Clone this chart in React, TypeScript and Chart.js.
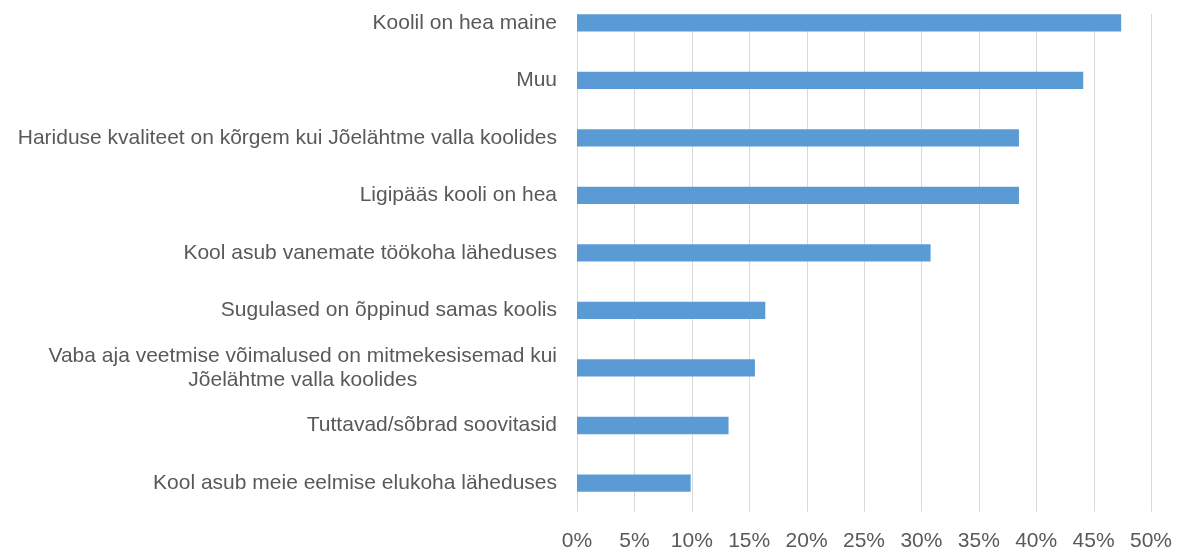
import React, { useEffect, useRef } from "react";
import { Chart, registerables } from "chart.js";

Chart.register(...registerables);

const categories: (string | string[])[] = [
  "Koolil on hea maine",
  "Muu",
  "Hariduse kvaliteet on kõrgem kui Jõelähtme valla koolides",
  "Ligipääs kooli on hea",
  "Kool asub vanemate töökoha läheduses",
  "Sugulased on õppinud samas koolis",
  ["Vaba aja veetmise võimalused on mitmekesisemad kui", "Jõelähtme valla koolides"],
  "Tuttavad/sõbrad soovitasid",
  "Kool asub meie eelmise elukoha läheduses",
];

const values = [47.4, 44.1, 38.5, 38.5, 30.8, 16.4, 15.5, 13.2, 9.9];

const xMin = 0;
const xMax = 50;
const xStep = 5;

const FONT_FAMILY = '"Liberation Sans", Arial, sans-serif';
const TEXT_COLOR = "#595959";
const GRID_COLOR = "#D9D9D9";
const BAR_COLOR = "#5B9BD5";

const gridPlugin = {
  id: "customGrid",
  beforeDatasetsDraw(chart: any) {
    const x = chart.scales.x;
    const meta = chart.getDatasetMeta(0);
    const first = meta.data[0] as any;
    if (!first) return;
    const top = first.y - first.height / 2;
    const bottom = chart.chartArea.bottom;
    const ctx = chart.ctx;
    ctx.save();
    ctx.strokeStyle = GRID_COLOR;
    ctx.lineWidth = 1;
    x.ticks.forEach((t: any) => {
      const px = Math.round(x.getPixelForValue(t.value)) + 0.5;
      ctx.beginPath();
      ctx.moveTo(px, top);
      ctx.lineTo(px, bottom);
      ctx.stroke();
    });
    ctx.restore();
  },
};

const labelPlugin = {
  id: "customLabels",
  afterDraw(chart: any) {
    const y = chart.scales.y;
    const ctx = chart.ctx;
    const right = chart.chartArea.left - 20;
    const lineH = 24;
    ctx.save();
    ctx.font = `21px ${FONT_FAMILY}`;
    ctx.fillStyle = TEXT_COLOR;
    ctx.textBaseline = "middle";
    categories.forEach((lab, i) => {
      const cy = y.getPixelForValue(i);
      const lines = Array.isArray(lab) ? lab : [lab];
      if (lines.length === 1) {
        ctx.textAlign = "right";
        ctx.fillText(lines[0], right, cy);
      } else {
        const w = Math.max(...lines.map((l) => ctx.measureText(l).width));
        const cx = right - w / 2;
        ctx.textAlign = "center";
        lines.forEach((l, j) => {
          ctx.fillText(l, cx, cy + (j - (lines.length - 1) / 2) * lineH);
        });
      }
    });
    ctx.restore();
  },
};

export default function App() {
  const ref = useRef<HTMLCanvasElement | null>(null);

  useEffect(() => {
    if (!ref.current) return;
    const chart = new Chart(ref.current, {
      type: "bar",
      data: {
        labels: categories.map((c) => (Array.isArray(c) ? c.join(" ") : c)),
        datasets: [
          {
            data: values,
            backgroundColor: BAR_COLOR,
            borderWidth: 0,
            barPercentage: 0.3,
            categoryPercentage: 1,
          },
        ],
      },
      options: {
        indexAxis: "y",
        animation: false,
        responsive: false,
        maintainAspectRatio: false,
        devicePixelRatio: 1,
        layout: { padding: { left: 577, right: 31, top: 24, bottom: 2 } },
        plugins: {
          legend: { display: false },
          tooltip: { enabled: false },
        },
        scales: {
          x: {
            min: xMin,
            max: xMax,
            grid: { display: false },
            border: { display: false },
            ticks: {
              stepSize: xStep,
              padding: 9,
              color: TEXT_COLOR,
              font: { size: 21, family: FONT_FAMILY },
              callback: (v: any) => `${v}%`,
            },
          },
          y: {
            display: false,
            offset: true,
          },
        },
      },
      plugins: [gridPlugin, labelPlugin],
    });
    return () => chart.destroy();
  }, []);

  return (
    <div
      style={{
        position: "fixed",
        left: 0,
        top: 0,
        width: 1182,
        height: 551,
        overflow: "hidden",
        background: "#fff",
      }}
    >
      <canvas
        ref={ref}
        width={1182}
        height={595}
        style={{ position: "absolute", left: 0, top: -30, width: 1182, height: 595, display: "block" }}
      />
    </div>
  );
}
